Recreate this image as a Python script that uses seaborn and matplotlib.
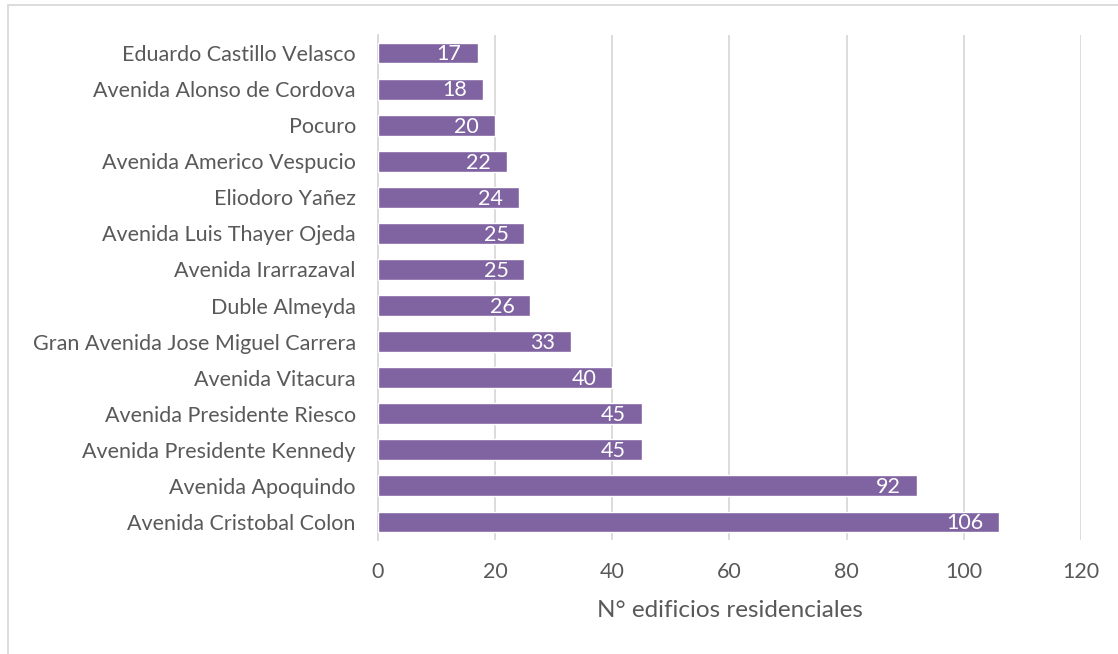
import matplotlib
matplotlib.use("Agg")
import matplotlib.pyplot as plt
import seaborn as sns
import pandas as pd
from matplotlib.patches import Rectangle

calles = [
    "Eduardo Castillo Velasco",
    "Avenida Alonso de Cordova",
    "Pocuro",
    "Avenida Americo Vespucio",
    "Eliodoro Yañez",
    "Avenida Luis Thayer Ojeda",
    "Avenida Irarrazaval",
    "Duble Almeyda",
    "Gran Avenida Jose Miguel Carrera",
    "Avenida Vitacura",
    "Avenida Presidente Riesco",
    "Avenida Presidente Kennedy",
    "Avenida Apoquindo",
    "Avenida Cristobal Colon",
]
edificios = [17, 18, 20, 22, 24, 25, 25, 26, 33, 40, 45, 45, 92, 106]
ticks_x = [0, 20, 40, 60, 80, 100, 120]

sns.set_theme(style="white")
plt.rcParams["font.family"] = ["Lato", "DejaVu Sans"]

df = pd.DataFrame({"calle": calles, "edificios": edificios})

fig = plt.figure(figsize=(11.18, 6.54), dpi=100)
ax = fig.add_axes([0.3381, 0.1743, 0.9669 - 0.3381, 0.9465 - 0.1743])

purple = "#8064A2"
grid_c = "#D9D9D9"
text_c = "#595959"

sns.barplot(data=df, x="edificios", y="calle", orient="h", color=purple,
            saturation=1, width=0.58, ax=ax, zorder=3)

for val, y in zip(edificios, range(len(edificios))):
    ax.annotate(str(val), xy=(val, y), xytext=(-11.5, -1), textcoords="offset points",
                ha="right", va="center", color="white", fontsize=15.5, zorder=4)

ax.set_xlim(0, 120)
ax.set_ylim(len(calles) - 0.5, -0.5)
ax.set_xticks(ticks_x)
ax.set_xticklabels([str(t) for t in ticks_x])
ax.xaxis.grid(True, color=grid_c, linewidth=1.3, zorder=0)
ax.yaxis.grid(False)
for s in ["top", "right", "bottom"]:
    ax.spines[s].set_visible(False)
ax.spines["left"].set_color(grid_c)
ax.spines["left"].set_linewidth(1.3)
ax.spines["left"].set_zorder(2)

ax.tick_params(axis="x", length=0, pad=16, labelsize=15.5, labelcolor=text_c)
ax.tick_params(axis="y", length=0, pad=16, labelsize=15.5, labelcolor=text_c)
ax.set_ylabel("")
ax.set_xlabel("N° edificios residenciales", fontsize=17.5, color=text_c, labelpad=13)

# Outer frame of the chart area
fig.patches.append(Rectangle((8 / 1118, -0.05), 1.1, 1 - 5 / 654 + 0.05,
                             transform=fig.transFigure, fill=False,
                             edgecolor="#D9D9D9", linewidth=1.3, zorder=0))

fig.savefig("out.png", dpi=100, facecolor="white")
